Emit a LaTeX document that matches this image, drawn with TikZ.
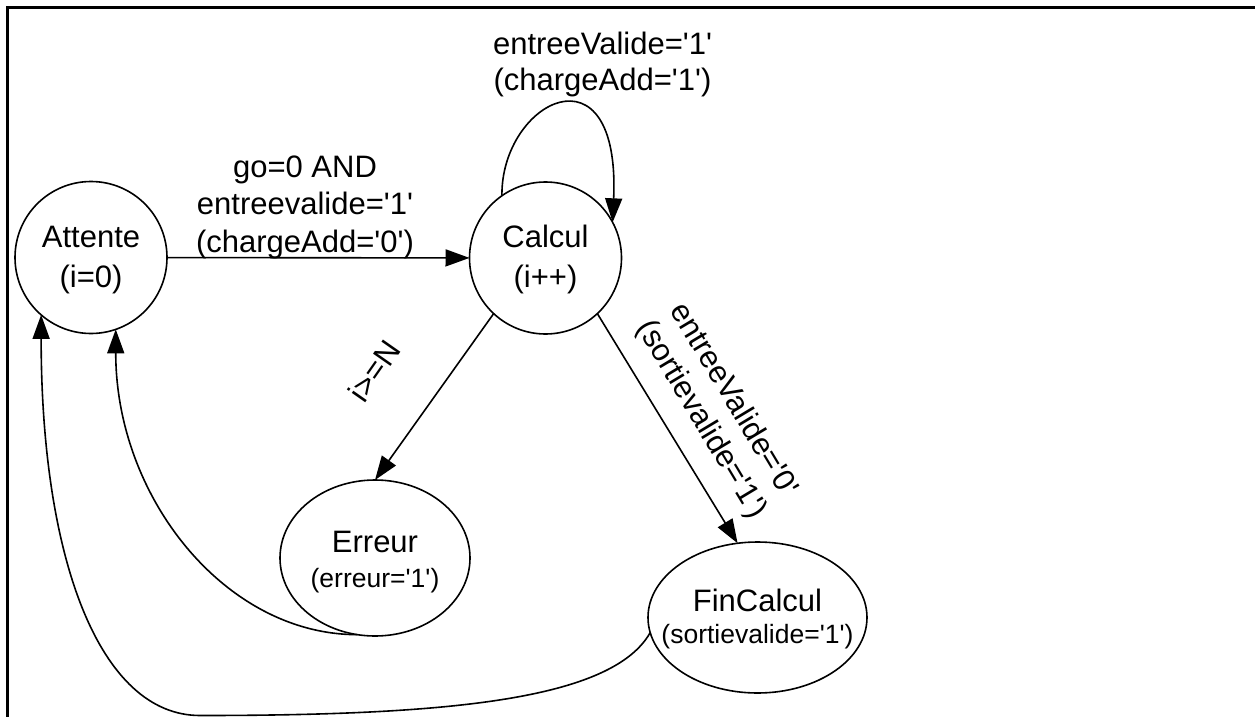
\documentclass[tikz,border=0pt]{standalone}
\usepackage{fontspec}
\setmainfont{Liberation Sans}[Ligatures=TeXOff]
\usetikzlibrary{arrows.meta,shapes.geometric}

\begin{document}
\begin{tikzpicture}[x=1pt,y=-1pt,
  every node/.style={inner sep=0pt, outer sep=0pt},
  statecirc/.style={draw, circle, line width=1.6pt, minimum size=152pt},
  stateell/.style={draw, ellipse, line width=1.6pt},
  bigtext/.style={font=\fontsize{31}{39.5}\selectfont, align=center},
  edgetext/.style={font=\fontsize{31}{37.6}\selectfont, align=center},
  trans/.style={line width=1.6pt, -{Triangle[length=24pt,width=17pt]}},
  frameline/.style={line width=3pt}
]
\useasboundingbox (0,0) rectangle (1255,717);
\clip (0,0) rectangle (1255,717);

% outer frame (top and left edges)
\draw[frameline] (1262,7.5) -- (7.5,7.5) -- (7.5,725);

% states
\node[statecirc] (att) at (91,257.5) {};
\node[statecirc] (cal) at (545.5,258) {};
\node[stateell, minimum width=190pt, minimum height=156pt] (err) at (375,558) {};
\node[stateell, minimum width=219pt, minimum height=151pt] (fin) at (757.5,617.5) {};

% state texts
\node[bigtext] (attT) at (91,260) {Attente\\(i=0)};
\node[bigtext] (calT) at (545.5,259.5) {Calcul\\(i++)};
\node[bigtext] (errT) at (375,562.5) {Erreur\\[-4.5pt]{\fontsize{26.5}{32}\selectfont(erreur='1')}};
\node[bigtext] (finT) at (757.5,619) {FinCalcul\\[-7pt]{\fontsize{26.5}{32}\selectfont(sortievalide='1')}};

% transitions
\draw[trans] (att) -- (cal);
\draw[trans] (cal.125) .. controls +(-1,-95) and +(8,-182) .. (cal.28);
\draw[trans] (cal.227) -- (err.north);
\draw[trans] (cal.313) -- (fin.105);
\draw[trans] (err.257) .. controls +(-132,0) and +(0,168) .. (att.289);
\coordinate (low) at (200,715.5);
\draw[trans] (fin.188) .. controls +(-38,67) and +(250,0) .. (low)
  .. controls +(-100,0) and +(0,245) .. (att.229);

% transition labels
\node[edgetext] (lblgo) at (305,207) {go=0 AND\\entreevalide='1'\\(chargeAdd='0')};
\node[edgetext, font=\fontsize{31}{36}\selectfont] (lblloop) at (602.5,64) {entreeValide='1'\\(chargeAdd='1')};
\node[edgetext, rotate=55] (lblerr) at (374,371) {i>=N};
\node[edgetext, rotate=-59] (lblfin) at (717,410) {entreeValide='0'\\(sortievalide='1')};
\end{tikzpicture}
\end{document}
